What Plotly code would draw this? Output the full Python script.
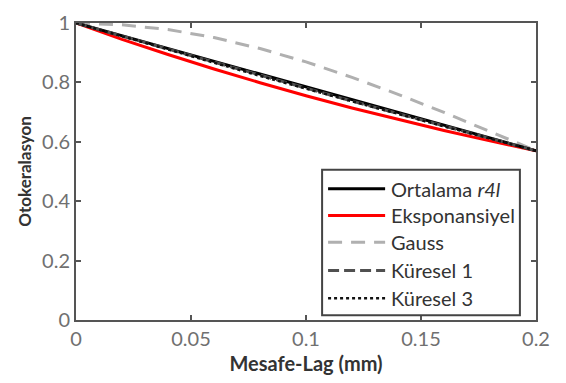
import plotly.graph_objects as go

# Lag distances (mm) and autocorrelation values
lag = [0.0, 0.02, 0.04, 0.06, 0.08, 0.10, 0.12, 0.14, 0.16, 0.18, 0.20]
ortalama_r4l = [1.0, 0.957, 0.914, 0.871, 0.829, 0.787, 0.744, 0.701, 0.657, 0.613, 0.570]
eksponansiyel = [1.0, 0.945, 0.894, 0.845, 0.799, 0.755, 0.714, 0.675, 0.638, 0.603, 0.570]
gauss = [1.0, 0.994, 0.978, 0.951, 0.914, 0.869, 0.817, 0.760, 0.699, 0.635, 0.570]
kuresel_1 = [1.0, 0.956, 0.912, 0.868, 0.824, 0.780, 0.737, 0.695, 0.653, 0.611, 0.570]
kuresel_3 = [1.0, 0.955, 0.910, 0.866, 0.822, 0.779, 0.736, 0.694, 0.652, 0.611, 0.570]

x_ticks = [0, 0.05, 0.1, 0.15, 0.2]
x_tick_text = ["0", "0.05", "0.1", "0.15", "0.2"]
y_ticks = [0, 0.2, 0.4, 0.6, 0.8, 1]
y_tick_text = ["0", "0.2", "0.4", "0.6", "0.8", "1"]

names = ["Ortalama <i>r4l</i>", "Eksponansiyel", "Gauss", "Küresel 1", "Küresel 3"]
colors = ["#000000", "#ff0000", "#b0b0b0", "#505050", "#111111"]
dashes = ["solid", "solid", "14px,9px", "11px,5px", "dot"]
widths = [3, 3, 3, 3, 2.5]
series = [ortalama_r4l, eksponansiyel, gauss, kuresel_1, kuresel_3]

FONT = "Lato, 'Open Sans', sans-serif"

fig = go.Figure()
# draw order: fitted models below, mean on top
for i in [2, 1, 0, 3, 4]:
    fig.add_trace(go.Scatter(
        x=lag, y=series[i], mode="lines", name=names[i],
        line=dict(color=colors[i], width=widths[i], dash=dashes[i]),
        showlegend=False,
    ))

# custom legend box with long line samples
shapes = [dict(type="rect", xref="paper", yref="paper",
               x0=0.535, x1=0.965, y0=0.016, y1=0.506,
               line=dict(color="#444444", width=2), fillcolor="white", layer="above")]
annotations = []
row_y = [0.442, 0.352, 0.262, 0.167, 0.073]
for i, yy in enumerate(row_y):
    shapes.append(dict(type="line", xref="paper", yref="paper",
                       x0=0.548, x1=0.672, y0=yy, y1=yy, layer="above",
                       line=dict(color=colors[i], width=widths[i], dash=dashes[i])))
    annotations.append(dict(xref="paper", yref="paper", x=0.681, y=yy,
                            text=names[i], showarrow=False, xanchor="left", yanchor="middle",
                            font=dict(family=FONT, size=20, color="#333333")))

fig.update_layout(
    width=566, height=383,
    margin=dict(l=76, r=30, t=10, b=63),
    paper_bgcolor="white", plot_bgcolor="white",
    shapes=shapes, annotations=annotations,
    xaxis=dict(range=[0, 0.2], tickvals=x_ticks, ticktext=x_tick_text,
               showgrid=False, zeroline=False, showline=True, mirror="ticks",
               linecolor="#555555", linewidth=2, ticks="inside", ticklen=5,
               tickcolor="#555555", tickwidth=1.5, ticklabeloverflow="allow",
               tickfont=dict(family=FONT, size=20, color="#707070"),
               title=dict(text="<b>Mesafe-Lag (mm)</b>", standoff=8,
                          font=dict(family=FONT, size=20, color="#333333"))),
    yaxis=dict(range=[0, 1], tickvals=y_ticks, ticktext=y_tick_text,
               showgrid=False, zeroline=False, showline=True, mirror="ticks",
               linecolor="#555555", linewidth=2, ticks="inside", ticklen=5,
               tickcolor="#555555", tickwidth=1.5, ticklabeloverflow="allow",
               tickfont=dict(family=FONT, size=20, color="#707070"),
               title=dict(text="<b>Otokeralasyon</b>", standoff=6,
                          font=dict(family=FONT, size=17, color="#333333"))),
)

fig.write_html("out.html")
